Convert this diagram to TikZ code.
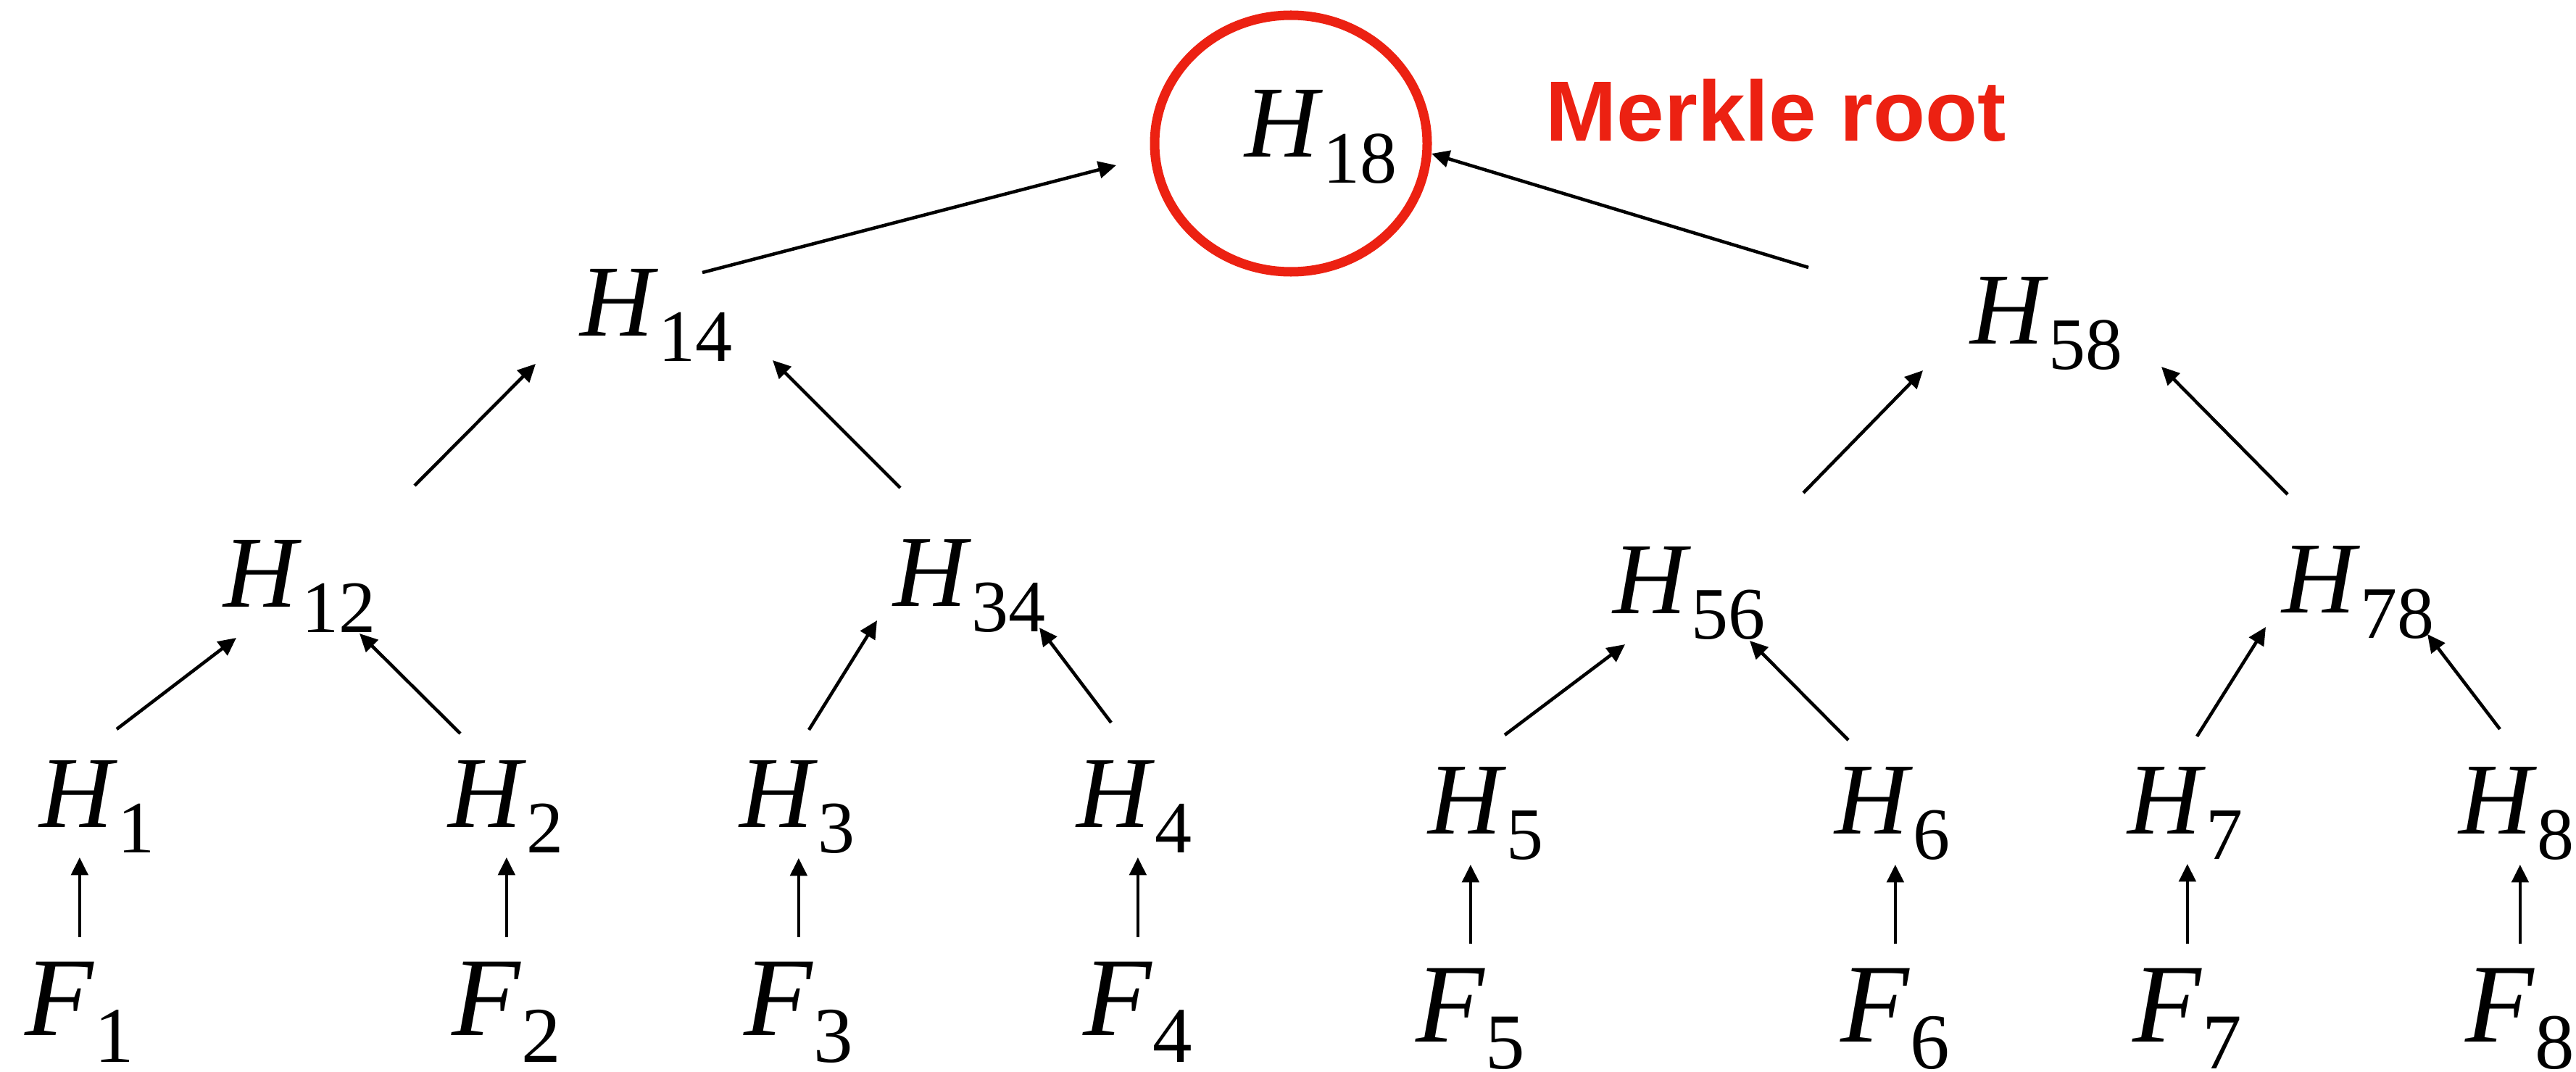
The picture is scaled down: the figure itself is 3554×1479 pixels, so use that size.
\documentclass[tikz,border=0pt]{standalone}
\usepackage{fontspec}
\setmainfont{Liberation Serif}
\newfontfamily\rootfont{Liberation Sans}
\usetikzlibrary{arrows.meta,calc}
\definecolor{rootred}{RGB}{236,33,18}
\newcommand\hname[1]{\textit{H}\raisebox{-10pt}{\fontsize{29}{29}\selectfont #1}}
\newcommand\fname[1]{\textit{F}\raisebox{-10.8pt}{\fontsize{31}{31}\selectfont #1}}

\begin{document}
\begin{tikzpicture}[
  x=0.01cm, y=-0.01cm,
  hnode/.style={anchor=base west, inner sep=0pt, font=\fontsize{40}{42}\selectfont},
  fnode/.style={anchor=base west, inner sep=0pt, font=\fontsize{44}{46}\selectfont},
  edge/.style={line width=1.3pt, draw=black, -{Triangle[length=7pt, width=6.6pt]}},
  vedge/.style={edge, shorten <=9.5pt, shorten >=1.7pt},
  ring/.style={line width=3.7pt, draw=rootred}
]
  \useasboundingbox (0,0) rectangle (3554,1479);

  % Raíz del árbol, marcada con la elipse roja
  \draw[ring] (1781,198) ellipse [x radius=188, y radius=177];
  \node[hnode] (h18) at (1717,217) {\hname{18}};
  \node[anchor=base west, inner sep=0pt, text=rootred, font=\rootfont\bfseries\fontsize{33.5}{36}\selectfont] (rootlbl) at (2132,195) {Merkle root};

  % Nodos intermedios
  \node[hnode] (h14) at (800,463) {\hname{14}};
  \node[hnode] (h58) at (2718,474) {\hname{58}};
  \node[hnode] (h12) at (308,837) {\hname{12}};
  \node[hnode] (h34) at (1232,836) {\hname{34}};
  \node[hnode] (h56) at (2225,846) {\hname{56}};
  \node[hnode] (h78) at (3148,845) {\hname{78}};

  % Hashes de las hojas
  \node[hnode] (h1) at (54,1141) {\hname{1}};
  \node[hnode] (h2) at (618,1141) {\hname{2}};
  \node[hnode] (h3) at (1020,1141) {\hname{3}};
  \node[hnode] (h4) at (1485,1141) {\hname{4}};
  \node[hnode] (h5) at (1970,1150) {\hname{5}};
  \node[hnode] (h6) at (2531,1150) {\hname{6}};
  \node[hnode] (h7) at (2935,1150) {\hname{7}};
  \node[hnode] (h8) at (3392,1150) {\hname{8}};

  % Ficheros
  \node[fnode] (f1) at (34,1428) {\fname{1}};
  \node[fnode] (f2) at (623,1428) {\fname{2}};
  \node[fnode] (f3) at (1026,1428) {\fname{3}};
  \node[fnode] (f4) at (1494,1428) {\fname{4}};
  \node[fnode] (f5) at (1953,1437) {\fname{5}};
  \node[fnode] (f6) at (2539,1437) {\fname{6}};
  \node[fnode] (f7) at (2942,1437) {\fname{7}};
  \node[fnode] (f8) at (3401,1437) {\fname{8}};

  % Fichero -> hash
  \draw[vedge] (f1.north) -- (f1.north |- h1.south);
  \draw[vedge] (f2.north) -- (f2.north |- h2.south);
  \draw[vedge] (f3.north) -- (f3.north |- h3.south);
  \draw[vedge] (f4.north) -- (f4.north |- h4.south);
  \draw[vedge] (f5.north) -- (f5.north |- h5.south);
  \draw[vedge] (f6.north) -- (f6.north |- h6.south);
  \draw[vedge] (f7.north) -- (f7.north |- h7.south);
  \draw[vedge] (f8.north) -- (f8.north |- h8.south);

  % Hojas -> primer nivel
  \draw[edge] ($(h1.base west)+(107,-135)$) -- ($(h12.base west)+(18,43)$);
  \draw[edge] ($(h2.base west)+(17,-129)$) -- ($(h12.base west)+(188,37)$);
  \draw[edge] ($(h3.base west)+(96,-134)$) -- ($(h34.base west)+(-22,20)$);
  \draw[edge] ($(h4.base west)+(48,-144)$) -- ($(h34.base west)+(202,30)$);
  \draw[edge] ($(h5.base west)+(106,-136)$) -- ($(h56.base west)+(17,43)$);
  \draw[edge] ($(h6.base west)+(19,-129)$) -- ($(h56.base west)+(189,38)$);
  \draw[edge] ($(h7.base west)+(96,-134)$) -- ($(h78.base west)+(-22,20)$);
  \draw[edge] ($(h8.base west)+(57,-144)$) -- ($(h78.base west)+(201,30)$);

  % Primer nivel -> segundo nivel
  \draw[edge] ($(h12.base west)+(264,-167)$) -- ($(h14.base west)+(-61,39)$);
  \draw[edge] ($(h34.base west)+(10,-163)$) -- ($(h14.base west)+(266,34)$);
  \draw[edge] ($(h56.base west)+(263,-166)$) -- ($(h58.base west)+(-65,37)$);
  \draw[edge] ($(h78.base west)+(8,-163)$) -- ($(h58.base west)+(264,32)$);

  % Segundo nivel -> raíz
  \draw[edge] ($(h14.base west)+(169,-87)$) -- ($(h18.base west)+(-177,11)$);
  \draw[edge] ($(h58.base west)+(-223,-105)$) -- ($(h18.base west)+(258,-5)$);

\end{tikzpicture}
\end{document}
